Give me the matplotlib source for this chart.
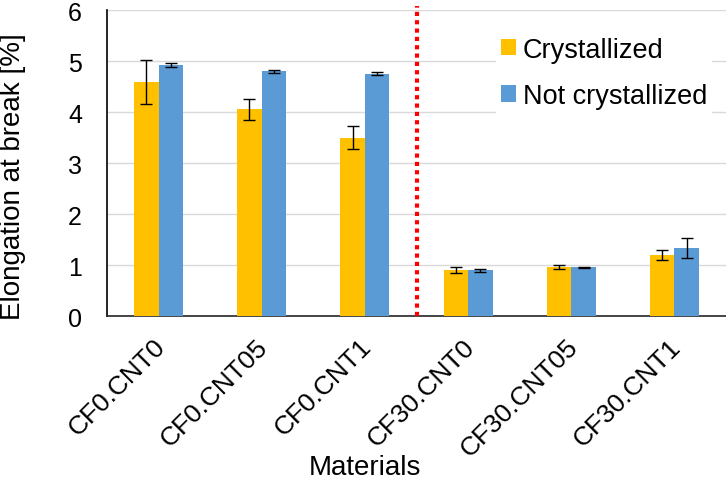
import numpy as np
import matplotlib.pyplot as plt
import matplotlib.transforms as mtransforms

plt.rcParams['font.family'] = ['Liberation Sans', 'DejaVu Sans']

materials = ['CF0.CNT0', 'CF0.CNT05', 'CF0.CNT1', 'CF30.CNT0', 'CF30.CNT05', 'CF30.CNT1']
crystallized = [4.59, 4.05, 3.50, 0.90, 0.96, 1.19]
crystallized_err = [0.43, 0.21, 0.23, 0.06, 0.04, 0.10]
not_crystallized = [4.93, 4.80, 4.75, 0.90, 0.96, 1.33]
not_crystallized_err = [0.04, 0.03, 0.03, 0.03, 0.01, 0.20]

fig = plt.figure(figsize=(7.26, 4.89), dpi=100)
ax = fig.add_axes([0.1474, 0.3517, 0.8526, 0.6258])

x = np.arange(len(materials))
w = 0.238
err_kw = dict(ecolor='black', elinewidth=1.0, capsize=4, capthick=1.0)
ax.bar(x - w / 2, crystallized, w, yerr=crystallized_err, color='#FFC000',
       label='Crystallized', error_kw=err_kw, zorder=3)
ax.bar(x + w / 2, not_crystallized, w, yerr=not_crystallized_err, color='#5B9BD5',
       label='Not crystallized', error_kw=err_kw, zorder=3)

# separator between CF0 and CF30 groups
ax.plot([2.5, 2.5], [0, 6.08], color='#FF0000', linestyle=(0, (1, 1)), linewidth=3,
        solid_capstyle='butt', clip_on=False, zorder=4)

ax.set_xlim(-0.5, 5.5)
ax.set_ylim(0, 6)
ax.set_yticks(range(0, 7))
ax.grid(axis='y', color='#D9D9D9', linewidth=1, zorder=0)
ax.set_axisbelow(True)
ax.tick_params(axis='both', length=0)
ax.tick_params(axis='y', labelsize=18, pad=18)
ax.set_xticks(x)
ax.set_xticklabels(materials, rotation=45, ha='right', rotation_mode='anchor', fontsize=19)
ax.tick_params(axis='x', pad=13)
shift = mtransforms.ScaledTranslation(-6 / 100, 0, fig.dpi_scale_trans)
for lab in ax.get_xticklabels():
    lab.set_transform(lab.get_transform() + shift)
for s in ['top', 'right']:
    ax.spines[s].set_visible(False)
ax.spines['left'].set_color('black')
ax.spines['left'].set_linewidth(1.2)
ax.spines['bottom'].set_color('#262626')
ax.spines['bottom'].set_linewidth(1.2)

ax.set_ylabel('Elongation at break [%]', fontsize=20, va='center')
ax.yaxis.set_label_coords(-0.152, 0.46)
ax.set_xlabel('Materials', fontsize=20, va='center')
ax.xaxis.set_label_coords(0.417, -0.493)

leg = ax.legend(loc='upper right', bbox_to_anchor=(1.0, 0.975), fontsize=19.5, frameon=True,
                fancybox=False, edgecolor='white', framealpha=1, handlelength=0.55,
                handleheight=0.55, handletextpad=0.25, labelspacing=0.75, borderpad=0.2)
leg.get_frame().set_linewidth(0)

fig.savefig('out.png', dpi=100)
